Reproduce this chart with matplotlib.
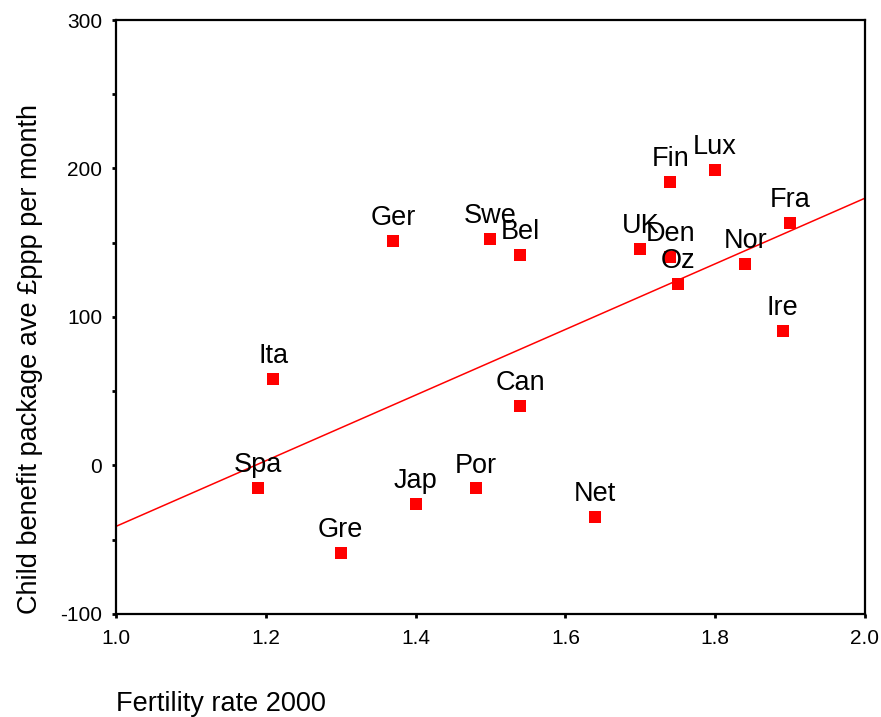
import matplotlib

matplotlib.use("Agg")

import matplotlib.pyplot as plt
from matplotlib.ticker import MultipleLocator

plt.rcParams["font.family"] = ["Liberation Sans", "DejaVu Sans"]
plt.rcParams["axes.unicode_minus"] = False

COUNTRIES = [
    "Spa", "Ita", "Gre", "Ger", "Jap", "Por", "Swe", "Bel", "Can",
    "Net", "UK", "Fin", "Den", "Oz", "Lux", "Nor", "Fra", "Ire",
]
FERTILITY = [
    1.19, 1.21, 1.30, 1.37, 1.40, 1.48, 1.50, 1.54, 1.54,
    1.64, 1.70, 1.74, 1.74, 1.75, 1.80, 1.84, 1.90, 1.89,
]
BENEFIT = [
    -15, 58.5, -59, 151, -26, -15.5, 152.5, 142, 40,
    -35, 146, 191, 140.5, 122.5, 199, 135.5, 163, 90.5,
]

# fitted line
FIT_X = [1.0, 2.0]
FIT_Y = [-41, 180]

fig = plt.figure(figsize=(8.81, 7.17), dpi=100)
ax = fig.add_axes([0.1317, 0.1437, 0.8501, 0.8284])

ax.plot(FIT_X, FIT_Y, color="#ff0000", linewidth=1.1, zorder=2)
ax.plot(FERTILITY, BENEFIT, linestyle="none", marker="s", markersize=8,
        color="#ff0000", markeredgewidth=0, zorder=3)

for name, x, y in zip(COUNTRIES, FERTILITY, BENEFIT):
    ax.annotate(name, (x, y), xytext=(0, 11.5), textcoords="offset points",
                ha="center", va="baseline", fontsize=19.5, zorder=4)

ax.set_xlim(1.0, 2.0)
ax.set_ylim(-100, 300)
ax.xaxis.set_major_locator(MultipleLocator(0.2))
ax.yaxis.set_major_locator(MultipleLocator(100))
ax.yaxis.set_minor_locator(MultipleLocator(50))
ax.xaxis.set_major_formatter(plt.FuncFormatter(lambda v, p: f"{v:.1f}"))
ax.yaxis.set_major_formatter(plt.FuncFormatter(lambda v, p: f"{v:.0f}"))

ax.tick_params(axis="both", which="both", direction="out", length=3,
               width=2, labelsize=15)
ax.tick_params(axis="y", pad=7)
ax.tick_params(axis="x", pad=8)
for spine in ax.spines.values():
    spine.set_linewidth(1.6)

ax.set_xlabel("Fertility rate 2000", fontsize=19.5, loc="left", labelpad=31)
ax.set_ylabel("Child benefit package ave £ppp per month", fontsize=19.5,
              loc="bottom", labelpad=12)

fig.savefig("out.png", dpi=100)
